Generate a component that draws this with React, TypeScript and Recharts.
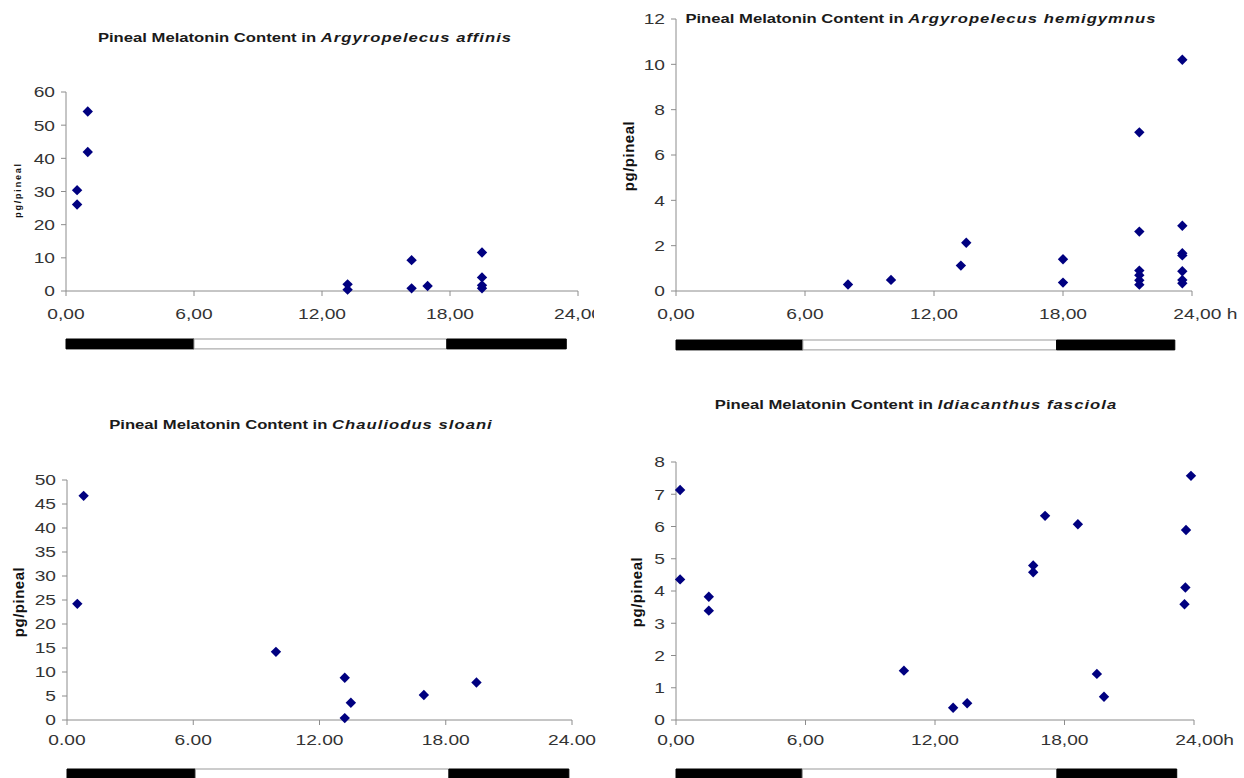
import React from "react";
import { ScatterChart, Scatter, XAxis, YAxis, BarChart, Bar } from "recharts";

const FONT = "'Liberation Sans', Arial, Helvetica, sans-serif";
const MARK = "#000080";
const AXIS = "#8c8c8c";
const SX = 1.28; // the scanned figure is stretched sideways

const hourTicks = [0, 6, 12, 18, 24];

// Argyropelecus affinis
const affinisHours = [0.52, 0.52, 1.02, 1.02, 13.2, 13.2, 16.2, 16.2, 16.95, 19.5, 19.5, 19.5, 19.5];
const affinisValues = [30.4, 26.1, 54.1, 41.9, 2.0, 0.4, 9.3, 0.8, 1.5, 11.6, 4.1, 1.7, 0.8];
const affinisTicks = [0, 10, 20, 30, 40, 50, 60];
const affinisPhases = [6.0, 11.85, 5.6];

// Argyropelecus hemigymnus
const hemigymnusHours = [8.0, 10.0, 13.25, 13.5, 18.0, 18.0, 21.55, 21.55, 21.55, 21.55, 21.55, 21.55, 23.55, 23.55, 23.55, 23.55, 23.55, 23.55, 23.55];
const hemigymnusValues = [0.29, 0.49, 1.12, 2.13, 1.4, 0.37, 7.0, 2.62, 0.9, 0.7, 0.47, 0.28, 10.2, 2.88, 1.67, 1.57, 0.87, 0.49, 0.34];
const hemigymnusTicks = [0, 2, 4, 6, 8, 10, 12];
const hemigymnusPhases = [5.9, 11.8, 5.5];

// Chauliodus sloani
const sloaniHours = [0.49, 0.79, 9.93, 13.2, 13.49, 13.2, 16.96, 19.46];
const sloaniValues = [24.2, 46.7, 14.2, 8.8, 3.6, 0.4, 5.2, 7.8];
const sloaniTicks = [0, 5, 10, 15, 20, 25, 30, 35, 40, 45, 50];
const sloaniPhases = [6.1, 12.05, 5.7];

// Idiacanthus fasciola
const fasciolaHours = [0.19, 0.19, 1.52, 1.52, 10.56, 12.84, 13.49, 16.55, 16.55, 17.1, 18.62, 19.5, 19.83, 23.63, 23.6, 23.56, 23.86];
const fasciolaValues = [7.13, 4.36, 3.82, 3.39, 1.53, 0.38, 0.52, 4.79, 4.58, 6.33, 6.07, 1.43, 0.72, 5.89, 4.11, 3.59, 7.57];
const fasciolaTicks = [0, 1, 2, 3, 4, 5, 6, 7, 8];
const fasciolaPhases = [5.85, 11.8, 5.55];

const zip = (xs: number[], ys: number[]) => xs.map((x, i) => ({ x, y: ys[i] }));
const comma = (v: number) => v.toFixed(2).replace(".", ",");
const dot = (v: number) => v.toFixed(2);

const Diamond = (props: any) => {
  const { cx, cy } = props;
  if (cx == null || cy == null) return null;
  const r = 5.2;
  return <path d={`M${cx},${cy - r}L${cx + r},${cy}L${cx},${cy + r}L${cx - r},${cy}Z`} fill={MARK} />;
};

const XTick = (props: any) => {
  const { x, y, payload, fmt, suffix } = props;
  const label = fmt(payload.value);
  const last = suffix && payload.value === 24;
  return (
    <g transform={`translate(${x},${y}) scale(${SX},1)`}>
      <text
        x={last ? -14.6 : 0}
        y={0}
        dy="0.71em"
        textAnchor={last ? "start" : "middle"}
        fontSize={15}
        fill="#333"
        fontFamily={FONT}
      >
        {last ? label + suffix : label}
      </text>
    </g>
  );
};

const YTick = (props: any) => {
  const { x, y, payload } = props;
  return (
    <g transform={`translate(${x},${y}) scale(${SX},1)`}>
      <text x={0} y={0} dy="0.36em" textAnchor="end" fontSize={15} fill="#333" fontFamily={FONT}>
        {payload.value}
      </text>
    </g>
  );
};

type PanelProps = {
  box: { left: number; top: number; width: number; height: number; chartH: number };
  plot: { x0: number; x1: number; yTop: number; yBottom: number };
  title: string;
  species: string;
  titlePos: { cx: number; cy: number };
  yLabel: { cx: number; cy: number; size: number; spacing: number };
  hours: number[];
  values: number[];
  yTicks: number[];
  fmt: (v: number) => string;
  suffix?: string;
  tickGap: number;
  phases: number[];
  barTop: number;
};

const Panel = (p: PanelProps) => {
  const { box, plot } = p;
  const data = zip(p.hours, p.values);
  const xAxisH = 40;
  const margin = {
    top: plot.yTop - box.top,
    right: box.left + box.width - plot.x1,
    bottom: box.top + box.chartH - plot.yBottom - xAxisH,
    left: 0,
  };
  const yAxisW = plot.x0 - box.left;
  const phaseRow = [{ name: "light", dark1: p.phases[0], light: p.phases[1], dark2: p.phases[2] }];
  return (
    <div
      style={{
        position: "absolute",
        left: box.left,
        top: box.top,
        width: box.width,
        height: box.height,
        overflow: "hidden",
      }}
    >
      <div
        style={{
          position: "absolute",
          left: p.titlePos.cx - box.left - 320,
          top: p.titlePos.cy - box.top - 9,
          width: 640,
          textAlign: "center",
          fontFamily: FONT,
          fontWeight: "bold",
          fontSize: 13,
          lineHeight: "18px",
          color: "#1a1a1a",
          whiteSpace: "nowrap",
          transform: `scaleX(${SX})`,
        }}
      >
        {p.title} <i style={{ letterSpacing: 0.8 }}>{p.species}</i>
      </div>
      <div
        style={{
          position: "absolute",
          left: p.yLabel.cx - box.left,
          top: p.yLabel.cy - box.top,
          transform: "translate(-50%, -50%) rotate(-90deg)",
          fontFamily: FONT,
          fontWeight: "bold",
          fontSize: p.yLabel.size,
          letterSpacing: p.yLabel.spacing,
          color: "#111",
          whiteSpace: "nowrap",
          lineHeight: 1,
        }}
      >
        pg/pineal
      </div>
      <div style={{ position: "absolute", left: 0, top: 0 }}>
        <ScatterChart width={box.width} height={box.chartH} margin={margin}>
          <XAxis
            type="number"
            dataKey="x"
            domain={[0, 24]}
            ticks={hourTicks}
            height={xAxisH}
            stroke={AXIS}
            tickSize={5}
            tickMargin={p.tickGap}
            tick={(t: any) => <XTick {...t} fmt={p.fmt} suffix={p.suffix} />}
            interval={0}
          />
          <YAxis
            type="number"
            dataKey="y"
            domain={[0, p.yTicks[p.yTicks.length - 1]]}
            ticks={p.yTicks}
            width={yAxisW}
            stroke={AXIS}
            tickSize={5}
            tickMargin={6}
            tick={(t: any) => <YTick {...t} />}
            interval={0}
          />
          <Scatter data={data} shape={Diamond} isAnimationActive={false} />
        </ScatterChart>
      </div>
      <div style={{ position: "absolute", left: 0, top: p.barTop - box.top - 2 }}>
        <BarChart
          width={box.width}
          height={15}
          data={phaseRow}
          layout="vertical"
          margin={{ top: 2, bottom: 2, left: yAxisW, right: margin.right }}
          barCategoryGap={0}
        >
          <XAxis type="number" domain={[0, 24]} hide />
          <YAxis type="category" dataKey="name" hide />
          <Bar dataKey="dark1" stackId="d" fill="#000" stroke="#000" barSize={11} isAnimationActive={false} />
          <Bar dataKey="light" stackId="d" fill="#fff" stroke="#999" barSize={11} isAnimationActive={false} />
          <Bar dataKey="dark2" stackId="d" fill="#000" stroke="#000" barSize={11} isAnimationActive={false} />
        </BarChart>
      </div>
    </div>
  );
};

const TITLE = "Pineal Melatonin Content in";

const App = () => (
  <div
    style={{
      position: "absolute",
      left: 0,
      top: 0,
      width: 1244,
      height: 778,
      overflow: "hidden",
      background: "#fff",
    }}
  >
    <Panel
      box={{ left: 0, top: 0, width: 594, height: 370, chartH: 340 }}
      plot={{ x0: 66, x1: 578, yTop: 92, yBottom: 291 }}
      title={TITLE}
      species="Argyropelecus affinis"
      titlePos={{ cx: 305, cy: 38 }}
      yLabel={{ cx: 18, cy: 190, size: 9, spacing: 1.8 }}
      hours={affinisHours}
      values={affinisValues}
      yTicks={affinisTicks}
      fmt={comma}
      tickGap={12}
      phases={affinisPhases}
      barTop={338}
    />
    <Panel
      box={{ left: 620, top: 0, width: 624, height: 370, chartH: 340 }}
      plot={{ x0: 676, x1: 1192, yTop: 19, yBottom: 291 }}
      title={TITLE}
      species="Argyropelecus hemigymnus"
      titlePos={{ cx: 921, cy: 19 }}
      yLabel={{ cx: 628, cy: 156, size: 15, spacing: 0.5 }}
      hours={hemigymnusHours}
      values={hemigymnusValues}
      yTicks={hemigymnusTicks}
      fmt={comma}
      suffix=" h"
      tickGap={12}
      phases={hemigymnusPhases}
      barTop={339}
    />
    <Panel
      box={{ left: 0, top: 390, width: 600, height: 388, chartH: 370 }}
      plot={{ x0: 67, x1: 572, yTop: 480, yBottom: 720 }}
      title={TITLE}
      species="Chauliodus sloani"
      titlePos={{ cx: 301, cy: 425 }}
      yLabel={{ cx: 18, cy: 602, size: 15, spacing: 0.5 }}
      hours={sloaniHours}
      values={sloaniValues}
      yTicks={sloaniTicks}
      fmt={dot}
      tickGap={9}
      phases={sloaniPhases}
      barTop={768}
    />
    <Panel
      box={{ left: 620, top: 390, width: 624, height: 388, chartH: 370 }}
      plot={{ x0: 676, x1: 1194, yTop: 462, yBottom: 720 }}
      title={TITLE}
      species="Idiacanthus fasciola"
      titlePos={{ cx: 916, cy: 405 }}
      yLabel={{ cx: 636, cy: 592, size: 15, spacing: 0.5 }}
      hours={fasciolaHours}
      values={fasciolaValues}
      yTicks={fasciolaTicks}
      fmt={comma}
      suffix="h"
      tickGap={9}
      phases={fasciolaPhases}
      barTop={768}
    />
  </div>
);

export default App;
